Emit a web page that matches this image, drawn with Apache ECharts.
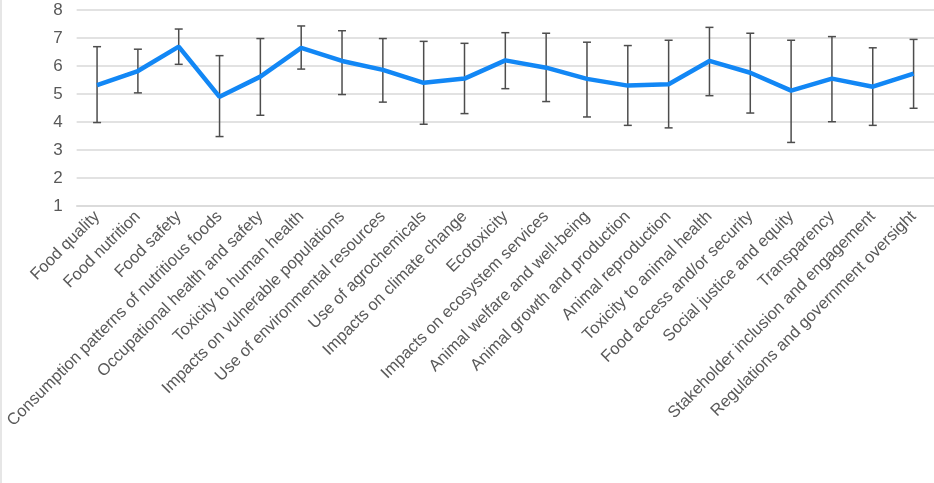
<!DOCTYPE html>
<html>
<head>
<meta charset="utf-8">
<script src="https://cdn.jsdelivr.net/npm/echarts@6/dist/echarts.min.js"></script>
<style>
    html, body { margin: 0; padding: 0; background: #fff; }
    #chart { width: 932px; height: 483px; border-left: 2px solid #e6e6e6; }
</style>
</head>
<body>
<div id="chart"></div>
<script>
    // categories, mean scores and error bar ends
    let categories = [
        'Food quality', 'Food nutrition', 'Food safety',
        'Consumption patterns of nutritious foods', 'Occupational health and safety',
        'Toxicity to human health', 'Impacts on vulnerable populations',
        'Use of environmental resources', 'Use of agrochemicals',
        'Impacts on climate change', 'Ecotoxicity', 'Impacts on ecosystem services',
        'Animal welfare and well-being', 'Animal growth and production',
        'Animal reproduction', 'Toxicity to animal health',
        'Food access and/or security', 'Social justice and equity', 'Transparency',
        'Stakeholder inclusion and engagement', 'Regulations and government oversight'
    ];
    let means = [5.32, 5.82, 6.69, 4.90, 5.62, 6.65, 6.18, 5.86, 5.40, 5.55, 6.20,
                 5.94, 5.54, 5.30, 5.35, 6.18, 5.76, 5.12, 5.55, 5.26, 5.73];
    let upper = [6.69, 6.60, 7.32, 6.37, 6.98, 7.43, 7.26, 6.98, 6.88, 6.81, 7.19,
                 7.17, 6.85, 6.73, 6.92, 7.38, 7.17, 6.92, 7.05, 6.65, 6.95];
    let lower = [3.98, 5.04, 6.06, 3.48, 4.24, 5.89, 4.98, 4.71, 3.92, 4.30, 5.19,
                 4.73, 4.18, 3.88, 3.79, 4.94, 4.32, 3.27, 4.01, 3.88, 4.49];
    let yTicks = [1, 8, 1]; // min, max, interval

    let errData = categories.map((c, i) => [i, lower[i], upper[i]]);

    let renderErrorBar = function(params, api){
        let lo = api.coord([api.value(0), api.value(1)]);
        let hi = api.coord([api.value(0), api.value(2)]);
        let half = 4;
        let style = { stroke: '#4d4d4d', lineWidth: 1.5 };
        return {
            type: 'group',
            children: [
                { type: 'line', shape: { x1: hi[0], y1: hi[1], x2: lo[0], y2: lo[1] }, style: style },
                { type: 'line', shape: { x1: hi[0] - half, y1: hi[1], x2: hi[0] + half, y2: hi[1] }, style: style },
                { type: 'line', shape: { x1: lo[0] - half, y1: lo[1], x2: lo[0] + half, y2: lo[1] }, style: style }
            ]
        };
    };

    let chart = echarts.init(document.getElementById('chart'));
    chart.setOption({
        animation: false,
        textStyle: { fontFamily: '"Liberation Sans", Arial, sans-serif' },
        grid: { left: 70.5, right: 0, top: 10, bottom: 277, containLabel: false },
        xAxis: {
            type: 'category',
            data: categories,
            axisTick: { show: false },
            axisLine: { lineStyle: { color: '#d9d9d9', width: 1.5 } },
            axisLabel: {
                rotate: 45,
                interval: 0,
                margin: 8,
                color: '#595959',
                fontSize: 16.5
            }
        },
        yAxis: {
            type: 'value',
            min: yTicks[0],
            max: yTicks[1],
            interval: yTicks[2],
            axisLine: { show: false },
            axisTick: { show: false },
            axisLabel: { color: '#595959', fontSize: 17, margin: 14 },
            splitLine: { lineStyle: { color: '#d9d9d9', width: 1.5 } }
        },
        series: [
            {
                type: 'custom',
                data: errData,
                renderItem: renderErrorBar,
                encode: { x: 0, y: [1, 2] },
                z: 1
            },
            {
                type: 'line',
                data: means,
                symbol: 'none',
                lineStyle: { color: '#1287f5', width: 4.5 },
                z: 2
            }
        ]
    });
</script>
</body>
</html>
